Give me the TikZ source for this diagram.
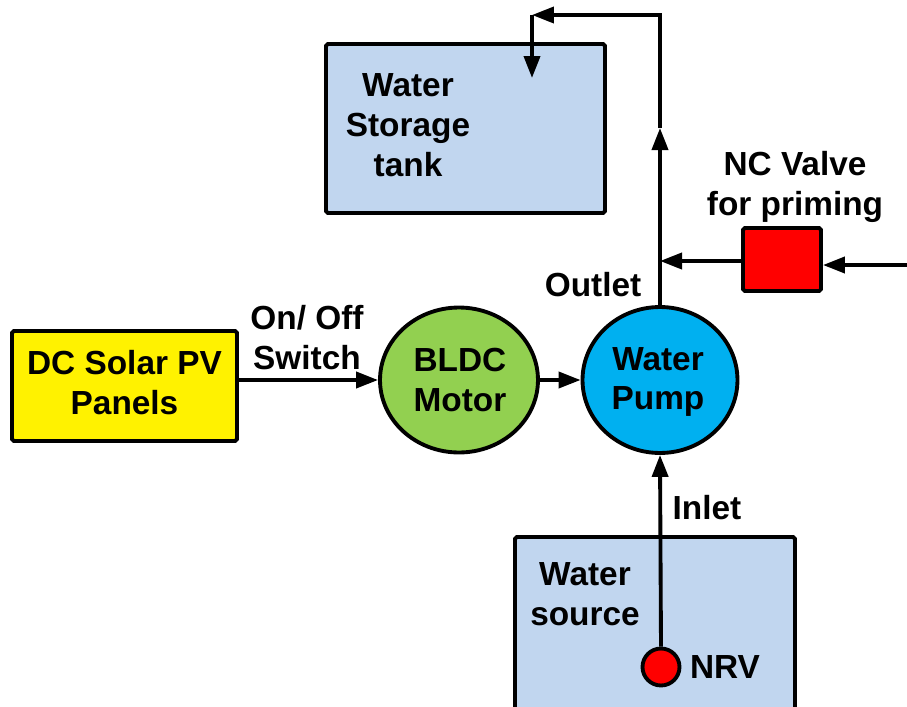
\documentclass[tikz,border=0pt]{standalone}
\usepackage{fontspec}
\setmainfont{Liberation Sans}
\usetikzlibrary{arrows.meta,shapes.geometric}
\definecolor{tankblue}{RGB}{193,214,239}
\definecolor{pumpcyan}{RGB}{0,176,240}
\definecolor{motorgreen}{RGB}{146,208,80}
\begin{document}
\begin{tikzpicture}[x=0.02cm,y=-0.02cm,
  txt/.style={font=\fontsize{19}{22.7}\selectfont\bfseries, align=center, inner sep=0pt},
  box/.style={draw, line width=2.2pt, rounded corners=1pt, inner sep=0pt},
  flow/.style={line width=2.2pt, -{Triangle[length=0.44cm,width=0.32cm]}}]
\useasboundingbox (0,0) rectangle (907,707);
% boxes
\node[box, fill=tankblue, minimum width=5.58cm, minimum height=3.38cm] (tank) at (465.5,128.5) {};
\node[txt] (tanktxt) at (408,125) {Water\\Storage\\tank};
\node[box, fill=yellow, minimum width=4.5cm, minimum height=2.2cm] (pv) at (124.5,386) {};
\node[txt] (pvtxt) at (124.5,383) {DC Solar PV\\Panels};
\node[box, fill=tankblue, minimum width=5.6cm, minimum height=3.76cm] (src) at (655,631) {};
\node[txt] (srctxt) at (585,594) {Water\\source};
\node[box, fill=red, minimum width=1.56cm, minimum height=1.26cm] (valve) at (782,259.5) {};
\node[draw, ellipse, line width=2.2pt, fill=motorgreen, minimum width=3.16cm, minimum height=2.9cm, inner sep=0pt] (motor) at (459,380) {};
\node[txt] (motortxt) at (460,380) {BLDC\\Motor};
\node[draw, ellipse, line width=2.2pt, fill=pumpcyan, minimum width=3.1cm, minimum height=2.92cm, inner sep=0pt] (pump) at (660,380) {};
\node[txt] (pumptxt) at (658,382) {Water\\Pump};
\node[draw, circle, line width=2.2pt, fill=red, minimum size=0.74cm, inner sep=0pt] (nrv) at (661,667) {};
% labels
\node[txt] (sw) at (307,338) {On/ Off\\Switch};
\node[txt] (outlet) at (593,285) {Outlet};
\node[txt] (nc) at (795,187) {NC Valve\\for priming};
\node[txt] (inlet) at (707,508) {Inlet};
\node[txt] (nrvtxt) at (725,667) {NRV};
% coordinates
\coordinate (up) at (660,128);
\coordinate (topr) at (660,15);
\coordinate (topl) at (532,15);
\coordinate (intank) at (532,78);
\coordinate (vin) at (907,265);
\coordinate (vj) at (660,261);
% connectors
\draw[flow] (pv.east |- motor.west) -- (motor.west);
\draw[flow] (motor.east) -- (pump.west);
\draw[flow] (nrv.north) -- (pump.south);
\draw[flow] (pump.north) -- (up);
\draw[flow, line join=miter] (up) -- (topr) -- (topl);
\draw[flow] (topl) -- (intank);
\draw[flow] (vin) -- (valve.east |- vin);
\draw[flow] (valve.west |- vj) -- (vj);
\end{tikzpicture}
\end{document}
